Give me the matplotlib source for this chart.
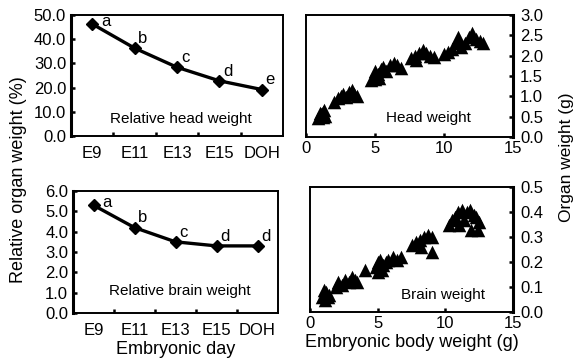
import matplotlib

matplotlib.use("Agg")

import matplotlib.pyplot as plt

plt.rcParams["font.family"] = ["Liberation Sans", "DejaVu Sans"]

# relative organ weight by embryonic day
days = ["E9", "E11", "E13", "E15", "DOH"]
head_rel = [46.3, 36.3, 28.4, 22.8, 19.2]
head_letters = ["a", "b", "c", "d", "e"]
brain_rel = [5.3, 4.2, 3.5, 3.3, 3.3]
brain_letters = ["a", "b", "c", "d", "d"]

# organ weight against embryonic body weight (g)
head_bw = [0.9, 1.0, 1.1, 1.2, 1.3, 1.4, 1.0, 1.2,
           2.0, 2.3, 2.5, 2.7, 2.9, 3.1, 3.3, 3.5, 3.7,
           4.7, 4.9, 5.0, 5.2, 5.4, 5.6, 5.8, 6.1, 6.4, 6.6, 6.9, 5.0, 5.3,
           7.6, 7.9, 8.0, 8.2, 8.5, 8.7, 9.0, 9.3,
           10.0, 10.3, 10.6, 10.9, 11.0, 11.2, 11.5, 11.8, 12.0, 12.3, 12.6, 12.8]
head_w = [0.47, 0.52, 0.56, 0.62, 0.66, 0.52, 0.6, 0.5,
          0.86, 0.95, 1.0, 1.06, 0.98, 1.1, 1.16, 1.06, 1.0,
          1.4, 1.5, 1.62, 1.56, 1.66, 1.72, 1.62, 1.76, 1.82, 1.76, 1.7, 1.42, 1.46,
          1.95, 2.0, 1.9, 2.07, 2.14, 2.06, 2.0, 1.96,
          2.05, 2.1, 2.16, 2.3, 2.45, 2.22, 2.32, 2.45, 2.55, 2.42, 2.36, 2.3]

brain_bw = [0.9, 1.0, 1.2, 1.3, 1.1, 1.4, 1.0,
            1.9, 2.1, 2.4, 2.6, 2.9, 3.1, 3.3, 3.5,
            4.1, 4.9, 5.0, 5.2, 5.4, 5.6, 5.8, 6.1, 6.4, 6.7, 5.3, 5.0,
            7.5, 7.8, 8.1, 8.4, 8.7, 9.0, 9.0, 8.2,
            10.3, 10.5, 10.7, 10.9, 11.2, 11.4, 11.6, 11.8, 12.1, 12.3, 12.5, 11.9, 12.4, 11.0]
brain_w = [0.06, 0.07, 0.08, 0.06, 0.05, 0.07, 0.09,
           0.1, 0.12, 0.11, 0.13, 0.12, 0.14, 0.13, 0.12,
           0.17, 0.18, 0.2, 0.21, 0.19, 0.2, 0.21, 0.22, 0.21, 0.22, 0.17, 0.16,
           0.27, 0.28, 0.29, 0.3, 0.31, 0.3, 0.24, 0.26,
           0.35, 0.37, 0.38, 0.4, 0.41, 0.37, 0.4, 0.41, 0.39, 0.38, 0.36, 0.33, 0.33, 0.35]

W, H = 579, 363
FS = 12
fig = plt.figure(figsize=(W / 100, H / 100), dpi=100)


def px_axes(x0, y0, x1, y1):
    return fig.add_axes([x0 / W, 1 - y1 / H, (x1 - x0) / W, (y1 - y0) / H])


def style(ax, side):
    for sp in ax.spines.values():
        sp.set_linewidth(1.4)
    ax.spines[side].set_linewidth(2.2)
    ax.tick_params(direction="in", length=3, width=1.8, labelsize=FS)


def day_panel(ax, values, letters, ymax, step, caption, cap_y):
    x = [i + 0.5 for i in range(len(days))]
    ax.plot(x, values, color="black", lw=2.4, marker="D", ms=6.5)
    for i, (xi, yi, t) in enumerate(zip(x, values, letters)):
        dx = 10 if i == 0 else 6
        dy = 2 if i == 0 else 7
        ax.annotate(t, (xi, yi), xytext=(dx, dy), textcoords="offset points",
                    ha="center", va="center", fontsize=FS)
    ax.set_xlim(0, len(days))
    ax.set_ylim(0, ymax)
    ax.set_xticks(range(1, len(days)))
    ax.set_xticklabels([])
    ax.set_xticks(x, minor=True)
    ax.set_xticklabels(days, minor=True)
    yt = [i * step for i in range(int(round(ymax / step)) + 1)]
    ax.set_yticks(yt)
    ax.set_yticklabels([f"{v:.1f}" for v in yt])
    style(ax, "left")
    ax.tick_params(axis="x", which="minor", length=0, pad=7, labelsize=FS)
    ax.text(len(days) / 2 + 0.1, cap_y, caption, ha="center", va="center", fontsize=11)


def weight_panel(ax, bw, w, ymax, step, caption, cap_x, cap_y):
    ax.scatter(bw, w, marker="^", s=95, color="black", linewidths=0)
    ax.set_xlim(0, 15)
    ax.set_ylim(0, ymax)
    ax.set_xticks([0, 5, 10, 15])
    ax.yaxis.tick_right()
    yt = [round(i * step, 2) for i in range(int(round(ymax / step)) + 1)]
    ax.set_yticks(yt)
    ax.set_yticklabels([f"{v:.1f}" for v in yt])
    style(ax, "right")
    ax.tick_params(axis="x", pad=3)
    ax.tick_params(axis="y", pad=5)
    ax.text(cap_x, cap_y, caption, ha="center", va="center", fontsize=11)


ax1 = px_axes(71, 15, 283, 136)
day_panel(ax1, head_rel, head_letters, 50, 10, "Relative head weight", 7)

ax2 = px_axes(73, 191, 278, 313)
day_panel(ax2, brain_rel, brain_letters, 6, 1, "Relative brain weight", 1.1)
ax2.set_xlabel("Embryonic day", fontsize=13, labelpad=2)

ax3 = px_axes(306, 15, 513, 137)
weight_panel(ax3, head_bw, head_w, 3.0, 0.5, "Head weight", 8.9, 0.47)

ax4 = px_axes(310, 187, 513, 312)
weight_panel(ax4, brain_bw, brain_w, 0.5, 0.1, "Brain weight", 9.8, 0.067)
ax4.set_xlabel("Embryonic body weight (g)", fontsize=13, labelpad=2)

fig.text(19 / W, 1 - 180 / H, "Relative organ weight (%)", rotation=90,
         ha="center", va="center", fontsize=13)
fig.text(567 / W, 1 - 157 / H, "Organ weight (g)", rotation=90,
         ha="center", va="center", fontsize=12.5)

fig.savefig("out.png", dpi=100, facecolor="white")
